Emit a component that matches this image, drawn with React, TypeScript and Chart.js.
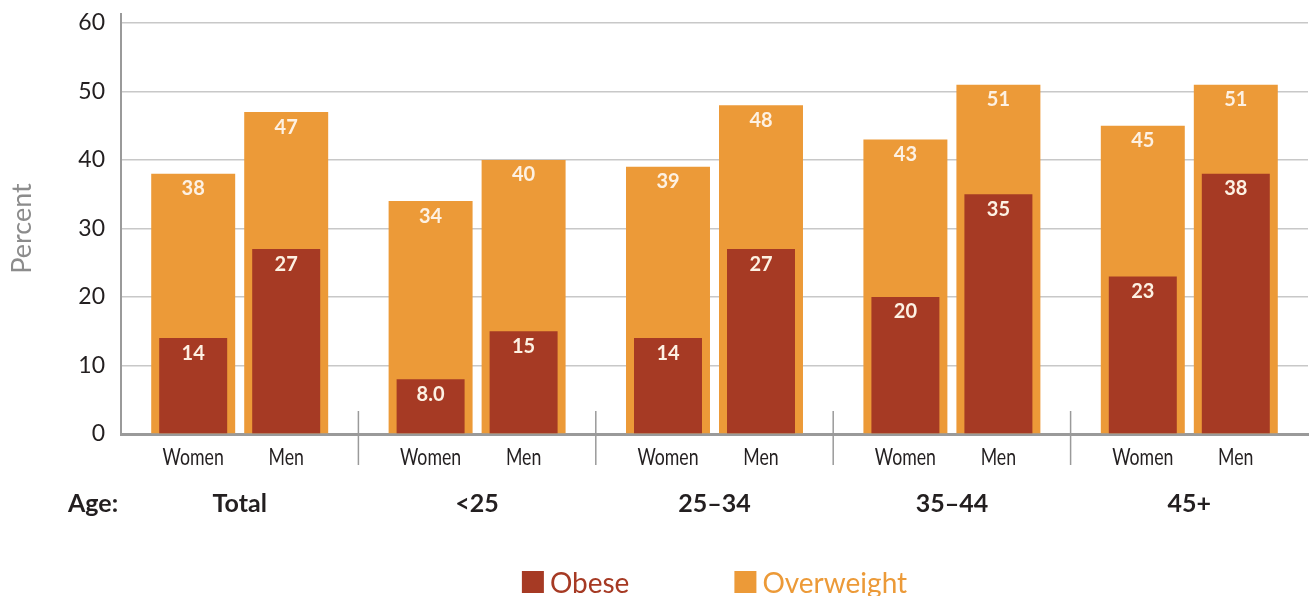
import React, { useEffect, useRef } from 'react';
import { Chart, registerables } from 'chart.js';

Chart.register(...registerables);

const ageGroups = ['Total', '<25', '25–34', '35–44', '45+'];
const sexes = ['Women', 'Men'];
const obeseWomen = [14, 8.0, 14, 20, 23];
const obeseMen = [27, 15, 27, 35, 38];
const overweightWomen = [38, 34, 39, 43, 45];
const overweightMen = [47, 40, 48, 51, 51];
const yTicks = [0, 10, 20, 30, 40, 50, 60];

const OBESE = '#a63a24';
const OVER = '#ec9a38';
const TEXT = '#231f20';
const AXIS = '#9a9a9a';
const FONT = 'Lato, "Open Sans", sans-serif';

const fmt = (v: number) => (v < 10 ? v.toFixed(1) : String(v));

const decor = {
  id: 'decor',
  afterDatasetsDraw(chart: any) {
    const ctx = chart.ctx;
    ctx.save();
    ctx.fillStyle = '#fdf1e3';
    ctx.font = `bold 20px ${FONT}`;
    ctx.textAlign = 'center';
    ctx.textBaseline = 'middle';
    chart.data.datasets.forEach((ds: any, di: number) => {
      const meta = chart.getDatasetMeta(di);
      meta.data.forEach((bar: any, i: number) => {
        ctx.fillText(fmt(ds.data[i]), bar.x, bar.y + 15);
      });
    });
    ctx.restore();
  },
  afterDraw(chart: any) {
    const { ctx, chartArea, scales } = chart;
    const x = scales.x;
    const y = scales.y;
    ctx.save();
    // y axis extension above top gridline
    ctx.strokeStyle = AXIS;
    ctx.lineWidth = 2;
    ctx.beginPath();
    ctx.moveTo(y.right, 13);
    ctx.lineTo(y.right, chartArea.top + 1);
    ctx.stroke();

    // Women / Men labels under bars (condensed)
    ctx.fillStyle = TEXT;
    ctx.font = `23px ${FONT}`;
    ctx.textAlign = 'center';
    ctx.textBaseline = 'middle';
    const squeeze = 0.77;
    [2, 3].forEach((di, si) => {
      const meta = chart.getDatasetMeta(di);
      meta.data.forEach((bar: any) => {
        ctx.save();
        ctx.translate(bar.x, 458);
        ctx.scale(squeeze, 1);
        ctx.fillText(sexes[si], 0, 0);
        ctx.restore();
      });
    });

    // separators between groups
    ctx.strokeStyle = AXIS;
    ctx.lineWidth = 1.5;
    for (let i = 0; i < ageGroups.length - 1; i++) {
      const px = (x.getPixelForValue(i) + x.getPixelForValue(i + 1)) / 2;
      ctx.beginPath();
      ctx.moveTo(px, 411);
      ctx.lineTo(px, 465);
      ctx.stroke();
    }

    // group labels
    ctx.font = `bold 25px ${FONT}`;
    ageGroups.forEach((g, i) => {
      ctx.fillText(g, x.getPixelForValue(i), 504);
    });
    ctx.textAlign = 'left';
    ctx.fillText('Age:', 68, 504);

    // legend
    const items: { text: string; color: string }[] = [];
    chart.data.datasets.forEach((ds: any) => {
      if (!items.find((it) => it.text === ds.label)) items.push({ text: ds.label, color: ds.backgroundColor });
    });
    ctx.font = `28px ${FONT}`;
    const box = 22;
    const gapText = 6;
    const gapItem = 105;
    const widths = items.map((it) => box + gapText + ctx.measureText(it.text).width);
    const total = widths.reduce((a, b) => a + b, 0) + gapItem * (items.length - 1);
    let cx = (chartArea.left + chartArea.right) / 2 - total / 2;
    ctx.textBaseline = 'alphabetic';
    items.forEach((it, i) => {
      ctx.fillStyle = it.color;
      ctx.fillRect(cx, 571, box, box);
      ctx.fillText(it.text, cx + box + gapText, 593);
      cx += widths[i] + gapItem;
    });
    ctx.restore();
  },
};

export default function App() {
  const ref = useRef<HTMLCanvasElement>(null);
  useEffect(() => {
    if (!ref.current) return;
    const common = { categoryPercentage: 0.7835, borderWidth: 0 };
    const chart = new Chart(ref.current, {
      type: 'bar',
      data: {
        labels: ageGroups,
        datasets: [
          { label: 'Obese', stack: 'Women', data: obeseWomen, backgroundColor: OBESE, barPercentage: 0.731, ...common },
          { label: 'Obese', stack: 'Men', data: obeseMen, backgroundColor: OBESE, barPercentage: 0.731, ...common },
          { label: 'Overweight', stack: 'Women', data: overweightWomen, backgroundColor: OVER, barPercentage: 0.903, ...common },
          { label: 'Overweight', stack: 'Men', data: overweightMen, backgroundColor: OVER, barPercentage: 0.903, ...common },
        ] as any,
      },
      options: {
        animation: false,
        responsive: true,
        maintainAspectRatio: false,
        layout: { padding: { top: 23, right: 4, bottom: 162, left: 0 } },
        plugins: {
          legend: { display: false },
          tooltip: { enabled: false },
        },
        scales: {
          x: {
            type: 'category',
            grid: { display: false },
            ticks: { display: false },
            border: { display: true, color: AXIS, width: 3 },
            afterFit: (s: any) => {
              s.height = 0;
            },
          },
          y: {
            stacked: false,
            min: 0,
            max: 60,
            afterBuildTicks: (s: any) => {
              s.ticks = yTicks.map((v) => ({ value: v }));
            },
            afterFit: (s: any) => {
              s.width = 121;
              s.paddingTop = 0;
              s.paddingBottom = 0;
            },
            grid: { color: '#c8c8c8', lineWidth: 1.5, drawTicks: false },
            border: { display: true, color: AXIS, width: 2 },
            ticks: { color: TEXT, font: { family: FONT, size: 23 }, padding: 16 },
            title: {
              display: true,
              text: 'Percent',
              color: '#8c8c8c',
              font: { family: FONT, size: 27 },
              padding: { top: 6, bottom: 0 },
            },
          },
        },
      } as any,
      plugins: [decor],
    });
    return () => chart.destroy();
  }, []);
  return (
    <div style={{ position: 'fixed', left: 0, top: 0, width: 1312, height: 596 }}>
      <canvas ref={ref} />
    </div>
  );
}
